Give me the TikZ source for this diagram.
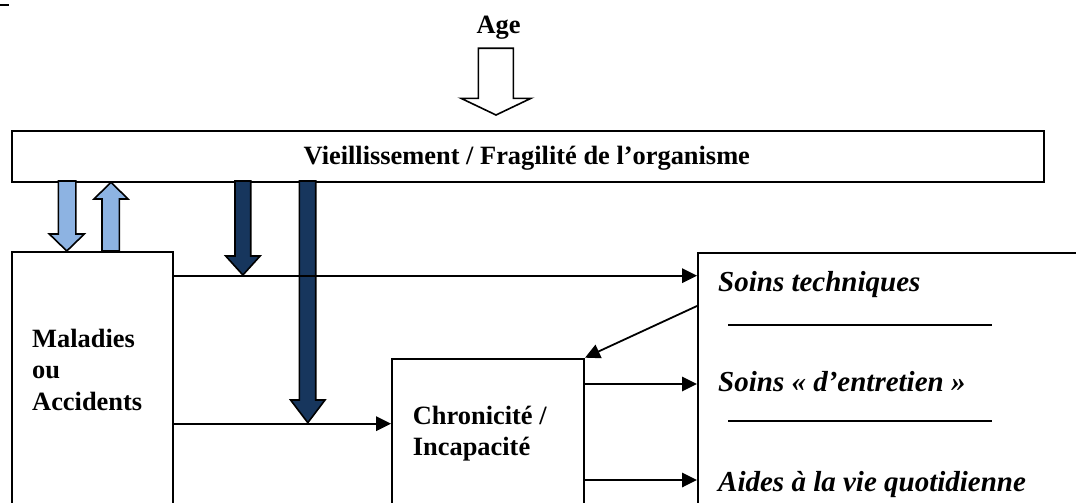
\documentclass[tikz,border=0pt]{standalone}
\usepackage{fontspec}
\setmainfont{Liberation Serif}
\usetikzlibrary{arrows.meta,calc}
\definecolor{lightblue}{HTML}{8DB3E2}
\definecolor{navy}{HTML}{17365D}
\tikzset{
  box/.style={draw, line width=2pt, inner sep=0pt, anchor=north west},
  bl/.style={font=\fontsize{26.4}{31.7}\selectfont\bfseries, inner sep=0pt},
  itx/.style={font=\fontsize{29}{34}\selectfont\bfseries\itshape, inner sep=0pt, anchor=base west},
  conn/.style={line width=1.8pt, -{Triangle[length=15pt,width=14.5pt]}},
  blockarrow/.style={draw, line width=1.6pt, line join=miter},
}
\begin{document}
\begin{tikzpicture}[x=1pt,y=-1pt]
\useasboundingbox (0,0) rectangle (1076,503);
\clip (0,0) rectangle (1076,503);
\fill (0,4) rectangle (9,6);

% boxes
\node[box, minimum width=1031.7pt, minimum height=51.3pt] (top) at (11,129.7) {};
\node[box, minimum width=160.7pt, minimum height=320pt] (mal) at (11,251) {};
\node[box, minimum width=192pt, minimum height=220pt] (chron) at (391,357.7) {};
\node[box, minimum width=420pt, minimum height=320pt] (rb) at (697,251.7) {};

% texts
\node[bl, anchor=base] (age) at (498.5,33.3) {Age};
\node[bl, anchor=base] (toptext) at (526.8,164.2) {Vieillissement / Fragilité de l’organisme};
\node[bl, anchor=base west] (mal1) at (32,347.3) {Maladies};
\node[bl, anchor=base west] (mal2) at (32,378.7) {ou};
\node[bl, anchor=base west] (mal3) at (32,410.7) {Accidents};
\node[bl, anchor=base west] (chr1) at (412.7,424.3) {Chronicité /};
\node[bl, anchor=base west] (chr2) at (412.7,455.3) {Incapacité};
\node[itx] (s1) at (718,291) {Soins techniques};
\node[itx] (s2) at (718,391) {Soins « d’entretien »};
\node[itx] (s3) at (718,491) {Aides à la vie quotidienne};
\draw[line width=2pt] (728,325) -- (992,325);
\draw[line width=2pt] (728,420.7) -- (992,420.7);

% block arrows
\draw[blockarrow, fill=white] (478.3,48.3) -- (513.3,48.3) -- (513.3,98.3) -- (531,98.3) -- (496,115) -- (461,98.3) -- (478.3,98.3) -- cycle;
\draw[blockarrow, fill=lightblue] (58.3,181) -- (58.3,234) -- (49.3,234) -- (66.8,251) -- (84.3,234) -- (75.8,234) -- (75.8,181) -- cycle;
\draw[blockarrow, fill=lightblue] (102,251) -- (102,199) -- (94,199) -- (111,182.3) -- (128,199) -- (119.4,199) -- (119.4,251) -- cycle;
\draw[blockarrow, fill=navy] (235,181) -- (235,256) -- (225.7,256) -- (242.9,275) -- (260.1,256) -- (250.7,256) -- (250.7,181) -- cycle;
\draw[blockarrow, fill=navy] (299.3,181) -- (299.3,400) -- (290.6,400) -- (307.8,422.7) -- (325,400) -- (315.7,400) -- (315.7,181) -- cycle;

% connectors
\draw[conn] (mal.east |- 0,275.7) -- (rb.west |- 0,275.7);
\draw[conn] (mal.east |- 0,423.7) -- (chron.west |- 0,423.7);
\draw[conn] (rb.west |- 0,306) -- (chron.north east);
\draw[conn] (chron.east |- 0,384) -- (rb.west |- 0,384);
\draw[conn] (chron.east |- 0,480) -- (rb.west |- 0,480);
\end{tikzpicture}
\end{document}
